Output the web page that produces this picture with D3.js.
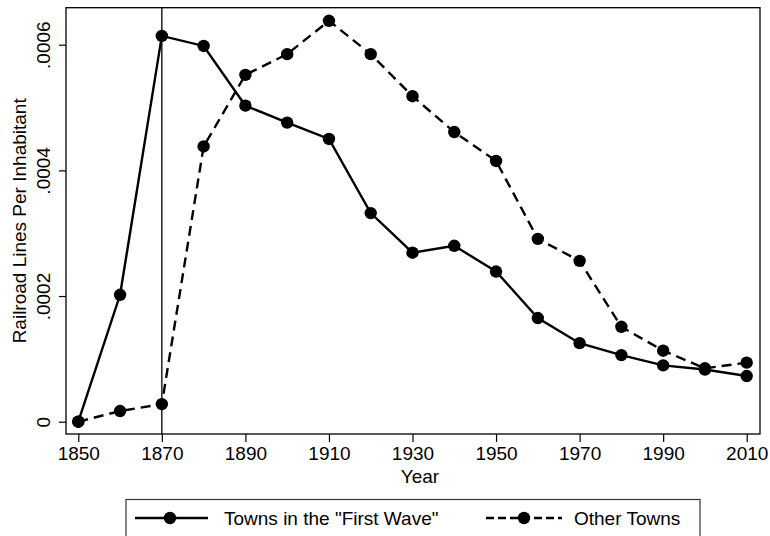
<!DOCTYPE html>
<html>
<head>
<meta charset="utf-8">
<script src="https://cdn.jsdelivr.net/npm/d3@7"></script>
<style>
  body { margin: 0; background: #fff; }
  text { font-family: "Liberation Sans", Arial, sans-serif; fill: #000; }
</style>
</head>
<body>
<div class="box"></div>
<script>
// donnees
const years = [1850, 1860, 1870, 1880, 1890, 1900, 1910, 1920, 1930, 1940, 1950, 1960, 1970, 1980, 1990, 2000, 2010];
const firstWave = [0, 0.000202, 0.000614, 0.000598, 0.000503, 0.000476, 0.000450, 0.000332, 0.000269, 0.000280, 0.000239, 0.000165, 0.000125, 0.000106, 0.0000897, 0.000083, 0.0000727];
const otherTowns = [0, 0.000017, 0.000028, 0.000438, 0.000552, 0.000585, 0.000638, 0.000585, 0.000518, 0.000461, 0.000415, 0.000291, 0.000256, 0.000151, 0.000113, 0.000085, 0.000094];
const xTicks = [1850, 1870, 1890, 1910, 1930, 1950, 1970, 1990, 2010];
const yTicks = [0, 0.0002, 0.0004, 0.0006];
const seriesNames = ['Towns in the "First Wave"', 'Other Towns'];
const markYear = 1870;

const W = 770, H = 536;
const fs = 19;
const plot = {left: 66, right: 760, top: 7.7, bottom: 434};

const svg = d3.select('.box')
              .append('svg')
              .attr('width', W)
              .attr('height', H);

const x = d3.scaleLinear().domain([1850, 2010]).range([78.3, 746.7]);
const y = d3.scaleLinear().domain([0, 0.0006]).range([421.7, 44.7]);

// axe x
const xAxis = svg.append('g')
                 .attr('transform', `translate(0, ${plot.bottom})`)
                 .call(d3.axisBottom(x).tickValues(xTicks).tickSize(8).tickPadding(5).tickFormat(d3.format('d')));
xAxis.select('.domain').remove();
xAxis.selectAll('line').attr('stroke', '#000').attr('stroke-width', 1.2);
xAxis.selectAll('text').attr('font-size', fs).attr('fill', '#000')
     .attr('font-family', '"Liberation Sans", Arial, sans-serif');

// axe y
const yFmt = d => d === 0 ? '0' : d3.format('.4f')(d).replace(/^0/, '');
const yAxis = svg.append('g')
                 .attr('transform', `translate(${plot.left}, 0)`)
                 .call(d3.axisLeft(y).tickValues(yTicks).tickSize(7).tickFormat(yFmt));
yAxis.select('.domain').remove();
yAxis.selectAll('line').attr('stroke', '#000').attr('stroke-width', 1.2);
yAxis.selectAll('text')
     .attr('font-size', fs).attr('fill', '#000')
     .attr('font-family', '"Liberation Sans", Arial, sans-serif')
     .attr('text-anchor', 'middle')
     .attr('dy', 0)
     .attr('x', 0)
     .attr('transform', 'translate(-16, 0) rotate(-90)');

// titres
svg.append('text')
   .attr('x', (plot.left + plot.right) / 2 + 7)
   .attr('y', 483)
   .attr('text-anchor', 'middle')
   .attr('font-size', fs)
   .text('Year');

svg.append('text')
   .attr('transform', `translate(26, ${(plot.top + plot.bottom) / 2}) rotate(-90)`)
   .attr('text-anchor', 'middle')
   .attr('font-size', fs)
   .text('Railroad Lines Per Inhabitant');

// ligne verticale 1870
svg.append('line')
   .attr('x1', x(markYear)).attr('x2', x(markYear))
   .attr('y1', plot.top).attr('y2', plot.bottom)
   .attr('stroke', '#000').attr('stroke-width', 1.3);

// series
const line = d3.line().x((d, i) => x(years[i])).y(d => y(d));
const series = [
  {vals: firstWave, dash: null},
  {vals: otherTowns, dash: '10,6'}
];

series.forEach(s => {
  svg.append('path')
     .attr('d', line(s.vals))
     .attr('fill', 'none')
     .attr('stroke', '#000')
     .attr('stroke-width', 2.4)
     .attr('stroke-dasharray', s.dash);
  svg.append('g').selectAll('circle')
     .data(s.vals)
     .enter()
     .append('circle')
     .attr('cx', (d, i) => x(years[i]))
     .attr('cy', d => y(d))
     .attr('r', 6.2)
     .attr('fill', '#000');
});

// cadre
svg.append('rect')
   .attr('x', plot.left).attr('y', plot.top)
   .attr('width', plot.right - plot.left).attr('height', plot.bottom - plot.top)
   .attr('fill', 'none').attr('stroke', '#000').attr('stroke-width', 1.3);

// legende
const leg = svg.append('g');
leg.append('rect')
   .attr('x', 126).attr('y', 499.5)
   .attr('width', 574).attr('height', 45)
   .attr('fill', 'none').attr('stroke', '#333').attr('stroke-width', 1.2);

const legItems = [
  {x1: 135, x2: 208, cx: 170, tx: 224, dash: null},
  {x1: 486, x2: 562, cx: 524, tx: 574, dash: '8,4'}
];
legItems.forEach((it, i) => {
  leg.append('line')
     .attr('x1', it.x1).attr('x2', it.x2)
     .attr('y1', 518).attr('y2', 518)
     .attr('stroke', '#000').attr('stroke-width', 2.4)
     .attr('stroke-dasharray', it.dash);
  leg.append('circle').attr('cx', it.cx).attr('cy', 518).attr('r', 6.2).attr('fill', '#000');
  leg.append('text').attr('x', it.tx).attr('y', 525).attr('font-size', fs).text(seriesNames[i]);
});
</script>
</body>
</html>
